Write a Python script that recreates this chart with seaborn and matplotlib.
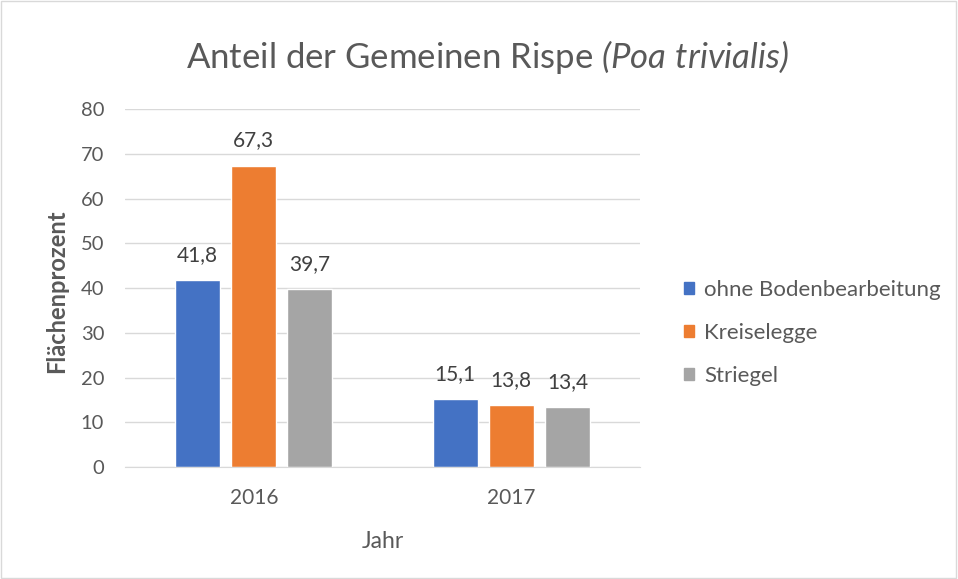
import pandas as pd
import matplotlib
matplotlib.use('Agg')
import matplotlib.pyplot as plt
import seaborn as sns
from matplotlib.patches import Patch

# Daten
jahre = ['2016', '2017']
varianten = ['ohne Bodenbearbeitung', 'Kreiselegge', 'Striegel']
werte_ohne = [41.8, 15.1]
werte_kreisel = [67.3, 13.8]
werte_striegel = [39.7, 13.4]
farben = ['#4472C4', '#ED7D31', '#A5A5A5']

df = pd.DataFrame({
    'Jahr': jahre * 3,
    'Variante': [v for v in varianten for _ in jahre],
    'Wert': werte_ohne + werte_kreisel + werte_striegel,
})

sns.set_style('white')
plt.rcParams['font.family'] = ['Lato', 'DejaVu Sans']
plt.rcParams['mathtext.fontset'] = 'custom'
plt.rcParams['mathtext.it'] = 'Lato:italic'
plt.rcParams['mathtext.rm'] = 'Lato:italic'

fig = plt.figure(figsize=(9.58, 5.79), dpi=100)
ax = fig.add_axes([0.1305, 0.1934, 0.5375, 0.6183])

sns.barplot(data=df, x='Jahr', y='Wert', hue='Variante', palette=farben,
            width=0.654, gap=0.2, ax=ax, legend=False, saturation=1)

ax.set_ylim(0, 80)
ax.set_xlim(-0.5, 1.5)
ax.set_yticks(range(0, 81, 10))
ax.yaxis.grid(True, color='#D9D9D9', linewidth=1)
ax.set_axisbelow(True)
for s in ['top', 'right', 'left']:
    ax.spines[s].set_visible(False)
ax.spines['bottom'].set_color('#D9D9D9')
ax.tick_params(axis='y', length=0, labelsize=14.5, labelcolor='#595959', pad=15)
ax.tick_params(axis='x', length=0, labelsize=15, labelcolor='#595959', pad=15)

for cont in ax.containers:
    ax.bar_label(cont, labels=[f'{v:.1f}'.replace('.', ',') for v in cont.datavalues],
                 padding=11, fontsize=15, color='#404040')

ax.set_xlabel('Jahr', fontsize=16.5, color='#595959', va='top')
ax.xaxis.set_label_coords(0.5, -0.18)
ax.set_ylabel('Flächenprozent', fontsize=17, color='#595959', fontweight='bold')
ax.yaxis.set_label_coords(-0.111, 0.49)

fig.text(0.509, 0.902, r'Anteil der Gemeinen Rispe $(Poa\ trivialis)$',
         ha='center', va='center', fontsize=25, color='#595959')

handles = [Patch(color=c) for c in farben]
fig.legend(handles, varianten, loc='center left', bbox_to_anchor=(0.693, 0.425),
           frameon=False, fontsize=16, labelcolor='#595959', handlelength=0.45,
           handleheight=0.45, handletextpad=0.45, labelspacing=1.05)

fig.patches.append(plt.Rectangle((0.001, 0.001), 0.997, 0.997, transform=fig.transFigure,
                                 fill=False, edgecolor='#D9D9D9', linewidth=1))

plt.savefig('out.png', dpi=100)
plt.close()
